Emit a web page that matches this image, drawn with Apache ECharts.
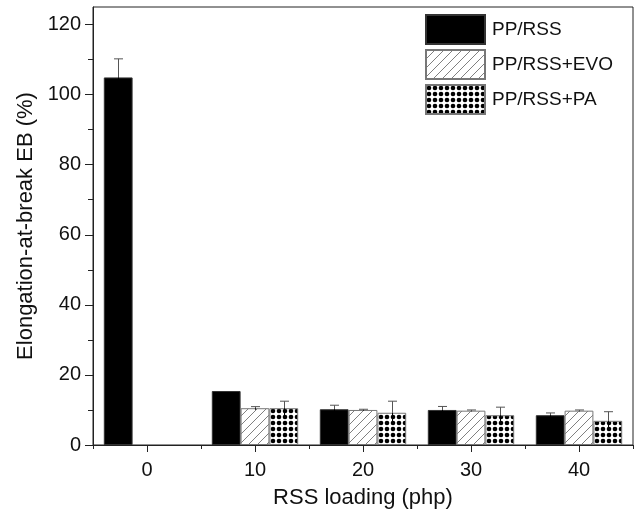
<!DOCTYPE html>
<html>
<head>
<meta charset="utf-8">
<script src="https://cdn.jsdelivr.net/npm/echarts@6/dist/echarts.min.js"></script>
<style>html,body{margin:0;padding:0;background:#fff}#c{width:637px;height:509px}</style>
</head>
<body>
<div id="c"></div>
<script>
// ---- data ----
const categories = ['0', '10', '20', '30', '40'];
const seriesNames = ['PP/RSS', 'PP/RSS+EVO', 'PP/RSS+PA'];
const ppRss = [104.9, 15.4, 10.2, 10.0, 8.5];
const ppRssErr = [5.3, 0, 1.15, 1.0, 0.65];
const ppRssEvo = [null, 10.5, 10.0, 9.8, 9.8];
const ppRssEvoErr = [null, 0.45, 0.2, 0.2, 0.2];
const ppRssPa = [null, 10.5, 9.2, 8.5, 6.9];
const ppRssPaErr = [null, 2.0, 3.3, 2.3, 2.6];
const yTicks = [0, 20, 40, 60, 80, 100, 120];
const yMinorTicks = [10, 30, 50, 70, 90, 110];

const FONT = '"Liberation Sans", Arial, sans-serif';

function hatchPattern() {
  const s = 9;
  const c = document.createElement('canvas');
  c.width = s; c.height = s;
  const g = c.getContext('2d');
  g.fillStyle = '#fff'; g.fillRect(0, 0, s, s);
  g.strokeStyle = '#808080'; g.lineWidth = 1;
  g.beginPath();
  g.moveTo(0, s); g.lineTo(s, 0);
  g.moveTo(-2, 2); g.lineTo(2, -2);
  g.moveTo(s - 2, s + 2); g.lineTo(s + 2, s - 2);
  g.stroke();
  return c;
}
function dotPattern() {
  const c = document.createElement('canvas');
  c.width = 6; c.height = 6;
  const g = c.getContext('2d');
  g.fillStyle = '#fff'; g.fillRect(0, 0, 6, 6);
  g.fillStyle = '#000';
  g.beginPath(); g.arc(3, 3, 2.3, 0, Math.PI * 2); g.fill();
  return c;
}

const values = [ppRss, ppRssEvo, ppRssPa];
const errs = [ppRssErr, ppRssEvoErr, ppRssPaErr];
const fills = [
  '#000',
  { image: hatchPattern(), repeat: 'repeat' },
  { image: dotPattern(), repeat: 'repeat' }
];
const borders = ['#333', '#777', '#777'];

const barSeries = seriesNames.map((n, k) => ({
  name: n,
  type: 'bar',
  xAxisIndex: 0, yAxisIndex: 0,
  barGap: '0%',
  barCategoryGap: '20%',
  data: values[k],
  itemStyle: { color: fills[k], borderColor: borders[k], borderWidth: 1 },
  z: 2
}));

const errSeries = seriesNames.map((n, k) => ({
  type: 'custom',
  xAxisIndex: 0, yAxisIndex: 0,
  z: 3,
  silent: true,
  data: values[k].map((v, i) => (v == null || !errs[k][i]) ? null : [i, v, errs[k][i]]).filter(d => d),
  encode: { x: 0, y: 1 },
  renderItem: function (params, api) {
    const idx = api.value(0), v = api.value(1), e = api.value(2);
    const band = api.size([1, 0])[0];
    const bw = band * 0.8 / 3;
    const top = api.coord([idx, v + e]);
    const mid = api.coord([idx, v]);
    const bot = api.coord([idx, v - e]);
    const x = Math.round(top[0] + (k - 1) * bw) + 0.5;
    const up = { stroke: '#555', lineWidth: 1 };
    const down = { stroke: '#000', lineWidth: 1 };
    return {
      type: 'group',
      children: [
        { type: 'line', shape: { x1: x, y1: top[1], x2: x, y2: mid[1] }, style: up },
        { type: 'line', shape: { x1: x, y1: mid[1], x2: x, y2: bot[1] }, style: down },
        { type: 'line', shape: { x1: x - 4.5, y1: top[1], x2: x + 4.5, y2: top[1] }, style: up }
      ]
    };
  }
}));

const axisLineStyle = { color: '#222', width: 1 };

const option = {
  animation: false,
  backgroundColor: '#fff',
  textStyle: { fontFamily: FONT },
  grid: {
    left: 93, right: 4, top: 7, bottom: 64,
    show: true, borderColor: '#222', borderWidth: 1,
    containLabel: false, outerBoundsMode: 'none'
  },
  legend: {
    data: seriesNames,
    orient: 'vertical',
    left: 420, top: 9,
    itemWidth: 59, itemHeight: 29, itemGap: 4,
    icon: 'rect',
    textStyle: { fontSize: 19, color: '#111', fontFamily: FONT, padding: [0, 0, 0, 2] }
  },
  xAxis: [
    {
      type: 'category', data: categories, position: 'bottom',
      axisLine: { show: true, lineStyle: axisLineStyle },
      axisTick: { show: true, length: 4, alignWithLabel: false, lineStyle: axisLineStyle },
      axisLabel: { fontSize: 20, color: '#111', margin: 15, fontFamily: FONT },
      splitLine: { show: false },
      name: 'RSS loading (php)', nameLocation: 'middle', nameGap: 42,
      nameTextStyle: { fontSize: 22, color: '#111', fontFamily: FONT }
    },
    {
      type: 'category', data: categories, position: 'bottom',
      axisLine: { show: false },
      axisTick: { show: true, length: 7, alignWithLabel: true, lineStyle: axisLineStyle },
      axisLabel: { show: false },
      splitLine: { show: false }
    }
  ],
  yAxis: [
    {
      type: 'value', min: 0, max: 125, position: 'left',
      axisLine: { show: true, lineStyle: axisLineStyle },
      axisTick: { show: true, length: 8, customValues: yTicks, lineStyle: axisLineStyle },
      axisLabel: { customValues: yTicks, fontSize: 20, color: '#111', margin: 12, fontFamily: FONT },
      splitLine: { show: false },
      name: 'Elongation-at-break EB (%)', nameLocation: 'middle', nameGap: 56,
      nameTextStyle: { fontSize: 22, color: '#111', fontFamily: FONT }
    },
    {
      type: 'value', min: 0, max: 125, position: 'left',
      axisLine: { show: false },
      axisTick: { show: true, length: 5, customValues: yMinorTicks, lineStyle: axisLineStyle },
      axisLabel: { show: false },
      splitLine: { show: false }
    }
  ],
  series: barSeries.concat(errSeries)
};

echarts.init(document.getElementById('c')).setOption(option);
</script>
</body>
</html>
